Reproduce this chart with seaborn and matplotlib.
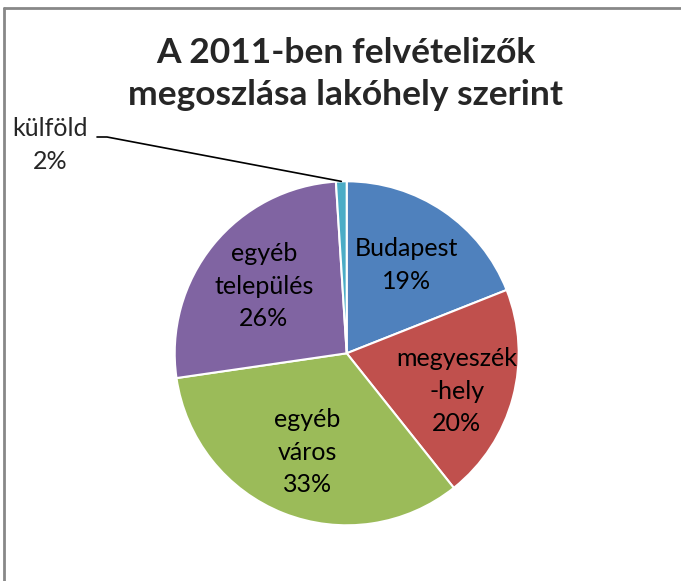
import numpy as np
import matplotlib.pyplot as plt
import seaborn as sns

sns.set_style("white")
plt.rcParams['font.family'] = ['Lato', 'DejaVu Sans']

# slices clockwise from 12 o'clock
names = ["Budapest", "megyeszék\n-hely", "egyéb\nváros", "egyéb\ntelepülés", "külföld"]
shares = [19.0, 20.3, 33.4, 26.3, 1.0]
pct_labels = ["19%", "20%", "33%", "26%", "2%"]
colors = ["#4F81BD", "#C0504D", "#9BBB59", "#8064A2", "#4BACC6"]

W, H = 681, 581
R = 172.0                  # pie radius in px
cx, cy = 346.7, 581 - 353.3  # pie centre in px from bottom-left

fig = plt.figure(figsize=(W / 100, H / 100), dpi=100)
ax = fig.add_axes([0, 0, 1, 1])

inside = [f"{n}\n{p}" for n, p in zip(names[:-1], pct_labels[:-1])] + [""]
wedges, texts = ax.pie(shares, colors=colors, startangle=90, counterclock=False,
                       labels=inside, labeldistance=0.62,
                       wedgeprops=dict(edgecolor="white", linewidth=1.5))
ax.set_aspect("auto")
ax.set_xlim(-cx / R, (W - cx) / R)
ax.set_ylim(-cy / R, (H - cy) / R)
ax.axis("off")

for t in texts:
    t.set_ha("center")
    t.set_va("center")
    t.set_multialignment("center")
    t.set_fontsize(18)
    t.set_linespacing(1.5)
    t.set_color("black")
# megyeszékhely label sits a bit lower in the reference
x, y = texts[1].get_position()
texts[1].set_position((x + 0.04, y - 0.06))

# outside label for the small slice with leader line
w = wedges[-1]
ang = np.deg2rad((w.theta1 + w.theta2) / 2)
edge = (np.cos(ang), np.sin(ang))
lx, ly = (97 - cx) / R, (H - 137 - cy) / R
ax.plot([lx, lx + 10 / R, edge[0]], [ly, ly, edge[1]], color="black", lw=1.2)
ax.text((50 - cx) / R, (H - 145 - cy) / R, f"{names[-1]}\n{pct_labels[-1]}",
        ha="center", va="center", multialignment="center",
        fontsize=18, linespacing=1.5)

fig.text(0.508, 1 - 74 / H, "A 2011-ben felvételizők\nmegoszlása lakóhely szerint",
         ha="center", va="center", fontsize=25.5, fontweight="bold", linespacing=1.35)

# chart-area border (top and left edges visible)
fig.add_artist(plt.Line2D([4 / W, 4 / W], [0, 1 - 8 / H], color="#888888", lw=2))
fig.add_artist(plt.Line2D([4 / W, 1], [1 - 8 / H, 1 - 8 / H], color="#888888", lw=2))

fig.savefig("out.png", dpi=100)
